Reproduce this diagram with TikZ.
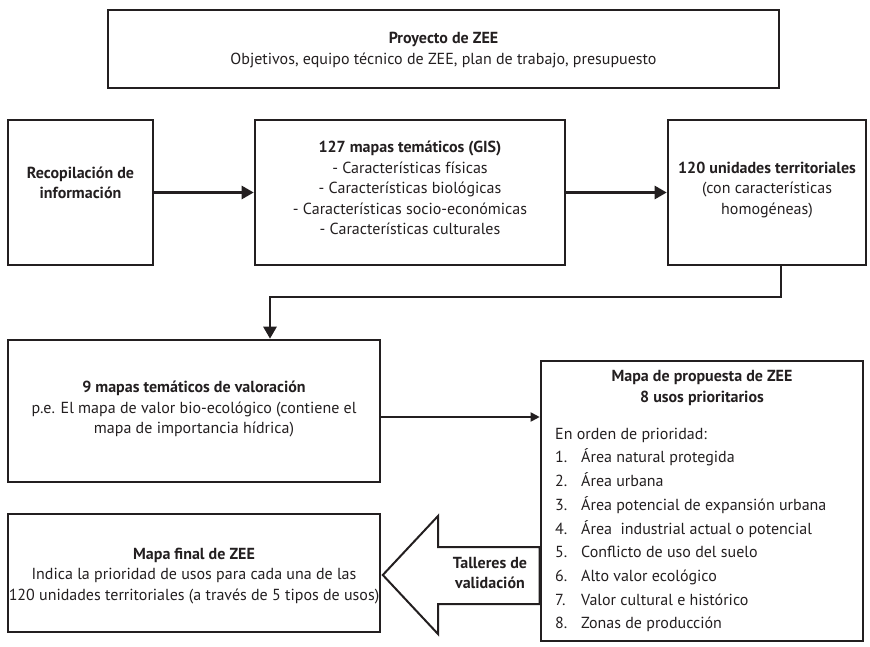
\documentclass[tikz,border=0pt]{standalone}
\usepackage{fontspec}
\setmainfont{PT Sans}
\usetikzlibrary{arrows.meta}
\definecolor{ink}{HTML}{231F20}
\newcommand\dfont{\fontsize{16}{20.6}\selectfont}
\newcommand\lfont{\fontsize{16}{23.7}\selectfont}
\newcommand\num[1]{\makebox[26pt][l]{#1}}
\begin{document}
\begin{tikzpicture}[x=1pt,y=-1pt,
  box/.style={draw=ink, line width=2.6pt, rectangle, inner sep=0pt, align=center, text=ink, font=\dfont},
  txt/.style={inner sep=0pt, text=ink, font=\dfont},
  arr/.style={draw=ink, line width=2.6pt, -{Triangle[length=12pt,width=13pt]}},
  arrthin/.style={draw=ink, line width=1.8pt, -{Triangle[length=9pt,width=9pt]}},
  bigarrow/.style={draw=ink, line width=2pt, line join=miter}
]
\useasboundingbox (0,0) rectangle (870,647);

\node[box, minimum width=671pt, minimum height=78pt] (proj) at (443.5,49) {};
\node[txt, align=center] (projt) at (443.5,50)
  {\textbf{Proyecto de ZEE}\\Objetivos, equipo técnico de ZEE, plan de trabajo, presupuesto};

\node[box, minimum width=145pt, minimum height=145pt] (rec) at (80.5,192.5) {};
\node[txt, align=center] (rect) at (80.5,183)
  {\textbf{Recopilación de}\\\textbf{información}};
\node[box, minimum width=310pt, minimum height=145pt] (map) at (410,192.5) {};
\node[txt, align=center] (mapt) at (410,188)
  {\textbf{127 mapas temáticos (GIS)}\\- Características físicas\\- Características biológicas\\- Características socio-económicas\\- Características culturales};
\node[box, minimum width=198pt, minimum height=145pt] (uni) at (767,192.5) {};
\node[txt, align=center] (unit) at (767,190)
  {\textbf{120 unidades territoriales}\\(con características\\homogéneas)};

\node[box, minimum width=372pt, minimum height=142pt] (val) at (194,411) {};
\node[txt, align=center] (valt) at (194,409)
  {\textbf{9 mapas temáticos de valoración}\\p.e. El mapa de valor bio-ecológico (contiene el\\mapa de importancia hídrica)};

\node[box, minimum width=322pt, minimum height=280pt] (prop) at (702,501) {};
\node[txt, align=center] (propt) at (702,388)
  {\textbf{Mapa de propuesta de ZEE}\\\textbf{8 usos prioritarios}};
\node[txt, align=left, anchor=west, font=\lfont] (propl) at (555,530)
  {En orden de prioridad:\\
   \num{1.}Área natural protegida\\
   \num{2.}Área urbana\\
   \num{3.}Área potencial de expansión urbana\\
   \num{4.}Área\ \ industrial actual o potencial\\
   \num{5.}Conflicto de uso del suelo\\
   \num{6.}Alto valor ecológico\\
   \num{7.}Valor cultural e histórico\\
   \num{8.}Zonas de producción};

\node[box, minimum width=372pt, minimum height=118pt] (fin) at (194,573) {};
\node[txt, align=center] (fint) at (194,576)
  {\textbf{Mapa final de ZEE}\\Indica la prioridad de usos para cada una de las\\120 unidades territoriales (a través de 5 tipos de usos)};

% connectors
\draw[arr] (rec) -- (map);
\draw[arr] (map) -- (uni);
\coordinate (bend) at (270,297);
\draw[arr] ([xshift=14pt]uni.south) |- (bend) -- (bend |- val.north);
\draw[arrthin] ([yshift=-6pt]val.east) -- ([yshift=-6pt]val.east -| prop.west);

% big validation arrow
\coordinate (tip) at ([xshift=1.5pt,yshift=-2pt]fin.east);
\draw[bigarrow] (tip) -- (438,516) -- (438,547) -- (prop.west |- 0,547)
  -- (prop.west |- 0,604) -- (438,604) -- (438,634) -- cycle;
\node[txt, align=center] (tal) at (490,573) {\textbf{Talleres de}\\\textbf{validación}};
\end{tikzpicture}
\end{document}
